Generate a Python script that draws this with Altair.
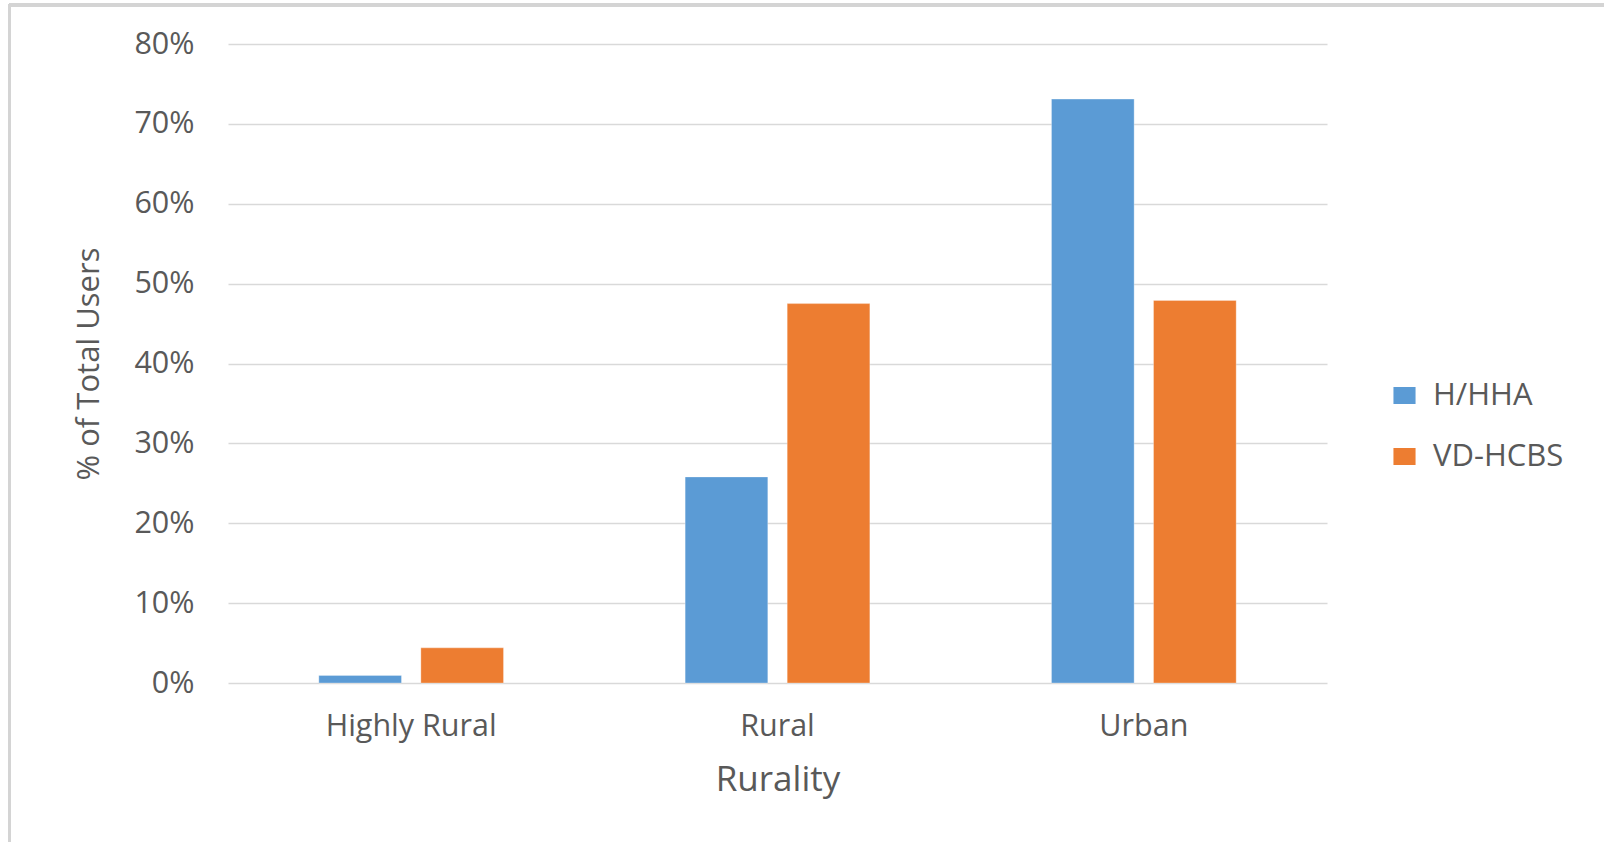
import altair as alt
import pandas as pd

# Share of total users by rurality, per program
categories = ["Highly Rural", "Rural", "Urban"]
series = ["H/HHA", "VD-HCBS"]
hhha_values = [0.0095, 0.258, 0.731]
vdhcbs_values = [0.044, 0.475, 0.479]
y_ticks = [0, 0.1, 0.2, 0.3, 0.4, 0.5, 0.6, 0.7, 0.8]
colors = ["#5B9BD5", "#ED7D31"]

rows = []
for cat, a, b in zip(categories, hhha_values, vdhcbs_values):
    rows.append({"Rurality": cat, "Series": series[0], "Share": a})
    rows.append({"Rurality": cat, "Series": series[1], "Share": b})
df = pd.DataFrame(rows)

FONT = "Open Sans"
TEXT = "#595959"
W, H = 1099, 639

bars = alt.Chart(df).mark_bar(stroke="white", strokeWidth=0.5, strokeOpacity=0.6).encode(
    x=alt.X(
        "Rurality:N",
        sort=categories,
        scale=alt.Scale(paddingInner=0, paddingOuter=0),
        axis=alt.Axis(
            title="Rurality",
            grid=False,
            labelAngle=0,
            labelFontSize=30.5,
            labelColor=TEXT,
            labelFont=FONT,
            labelBaseline="middle",
            labelPadding=43,
            ticks=False,
            tickSize=0,
            domain=False,
            titleFontSize=35,
            titleFontWeight="normal",
            titleColor=TEXT,
            titleFont=FONT,
            titleX=W / 2,
            titleY=96,
            titleAlign="center",
            titleBaseline="middle",
        ),
    ),
    xOffset=alt.XOffset(
        "Series:N",
        sort=series,
        scale=alt.Scale(paddingInner=0.19, paddingOuter=0.89),
    ),
    y=alt.Y(
        "Share:Q",
        scale=alt.Scale(domain=[0, 0.8], nice=False),
        axis=alt.Axis(
            title="% of Total Users",
            values=y_ticks,
            format=".0%",
            labelFontSize=30.5,
            labelColor=TEXT,
            labelFont=FONT,
            labelPadding=34,
            labelAlign="right",
            labelBaseline="middle",
            ticks=False,
            tickSize=0,
            domain=False,
            grid=True,
            gridColor="#D9D9D9",
            gridWidth=1.5,
            titleFontSize=31,
            titleFontWeight="normal",
            titleColor=TEXT,
            titleFont=FONT,
            titleAngle=270,
            titleX=-139,
            titleY=H / 2,
            titleAlign="center",
            titleBaseline="middle",
        ),
    ),
    color=alt.Color(
        "Series:N",
        sort=series,
        scale=alt.Scale(domain=series, range=colors),
        legend=alt.Legend(
            title=None,
            orient="none",
            legendX=1161,
            legendY=336,
            symbolType="M-1.3,-1H1.3V1H-1.3Z",
            symbolSize=289,
            symbolStrokeWidth=0,
            labelFontSize=31,
            labelColor=TEXT,
            labelFont=FONT,
            labelOffset=13,
            rowPadding=29,
        ),
    ),
)

# Frame lines along the top and left edges of the figure
frame_top = alt.Chart(df).mark_rule(color="#D4D4D4", strokeWidth=3).encode(
    x=alt.value(-219), x2=alt.value(1376), y=alt.value(-39)
)
frame_left = alt.Chart(df).mark_rule(color="#D4D4D4", strokeWidth=3).encode(
    x=alt.value(-218.5), y=alt.value(-40), y2=alt.value(800)
)

chart = (
    alt.layer(bars, frame_top, frame_left)
    .properties(
        width=W,
        height=H,
        background="white",
        autosize=alt.AutoSizeParams(type="none"),
        padding={"left": 228, "top": 44, "right": 277, "bottom": 159},
    )
    .configure_view(strokeWidth=0, stroke="transparent")
    .configure_axisX(grid=False)
)

chart.save("out.html", embed_options={"renderer": "svg", "actions": False})
